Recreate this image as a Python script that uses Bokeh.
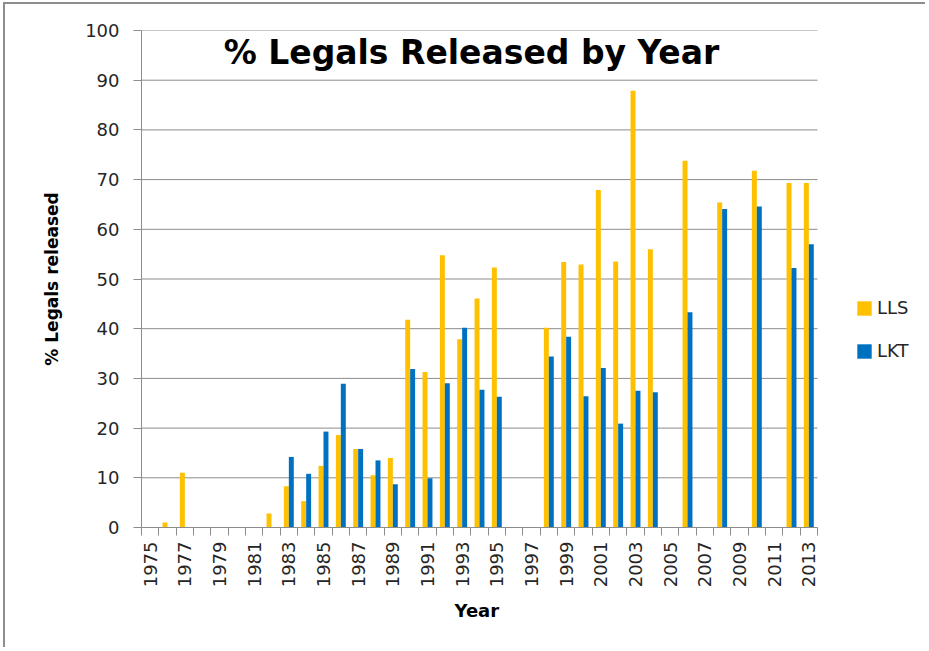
import math
from bokeh.plotting import figure
from bokeh.models import Range1d, FixedTicker, Label, Legend, LegendItem, ColumnDataSource, Title
from bokeh.transform import dodge
from bokeh.embed import file_html
from bokeh.resources import INLINE

nan = float("nan")

years = list(range(1975, 2014))
lls = [nan, 1.0, 11.0, nan, nan, nan, nan, 2.8, 8.3, 5.3,
       12.4, 18.6, 15.8, 10.5, 14.0, 41.8, 31.3, 54.8, 37.9, 46.1,
       52.3, nan, nan, 40.2, 53.4, 52.9, 67.9, 53.5, 87.9, 56.0,
       nan, 73.8, nan, 65.4, nan, 71.8, nan, 69.3, 69.3]
lkt = [nan, nan, nan, nan, nan, nan, nan, nan, 14.2, 10.8,
       19.3, 28.9, 15.8, 13.5, 8.7, 31.9, 9.9, 29.0, 40.2, 27.7,
       26.3, nan, nan, 34.4, 38.4, 26.4, 32.1, 20.9, 27.5, 27.2,
       nan, 43.3, nan, 64.1, nan, 64.6, nan, 52.2, 57.0]
x_tick_years = list(range(1975, 2014, 2))
y_ticks = list(range(0, 101, 10))
series_names = ["LLS", "LKT"]
series_colors = ["#FFC000", "#0070C0"]
title_text = "% Legals Released by Year"
x_title = "Year"
y_title = "% Legals released"

src = ColumnDataSource(dict(year=years, lls=lls, lkt=lkt))

# layout (pixels inside the figure; the figure content starts at page (5, 4))
W, H = 922, 645
left, top, bottom_px = 136, 26, 523
axis_right = 812          # right end of the category axis
frame_right = 908         # frame extended to hold the legend
x0 = years[0] - 0.5
x1 = years[-1] + 0.5
px_per_year = (axis_right - left) / (x1 - x0)
x_end = x1 + (frame_right - axis_right) / px_per_year

p = figure(width=W, height=H, output_backend="svg", toolbar_location=None,
           x_range=Range1d(x0, x_end), y_range=Range1d(0, 100),
           min_border_left=left, min_border_right=W - frame_right, min_border_top=top,
           min_border_bottom=H - bottom_px)
p.margin = (2, 0, 0, 3)
p.styles = {"border-top": "2px solid #8e8e8e", "border-left": "2px solid #8e8e8e",
            "border-right": "0px none white", "border-bottom": "0px none white",
            "outline": "none"}
p.outline_line_color = None
p.background_fill_color = "white"
p.border_fill_color = "white"

grey = "#8c8c8c"
txt = "#262626"

# horizontal gridlines limited to the category axis
p.segment(x0=[x0] * len(y_ticks), x1=[x1] * len(y_ticks), y0=y_ticks, y1=y_ticks,
          line_color=grey, line_width=1)

bw = 1.0 / 3.5
r1 = p.vbar(x=dodge("year", -bw / 2, range=p.x_range), top="lls", width=bw, source=src,
            fill_color=series_colors[0], line_color=None)
r2 = p.vbar(x=dodge("year", bw / 2, range=p.x_range), top="lkt", width=bw, source=src,
            fill_color=series_colors[1], line_color=None)

# x axis
p.xaxis.bounds = (x0, x1)
p.xaxis.ticker = FixedTicker(ticks=x_tick_years, minor_ticks=[y - 0.5 for y in years] + [x1])
p.xaxis.major_label_orientation = math.pi / 2
p.xaxis.major_tick_line_color = None
p.xaxis.major_tick_out = 8
p.xaxis.major_tick_in = 0
p.xaxis.minor_tick_out = 8
p.xaxis.minor_tick_in = 0
p.xaxis.minor_tick_line_color = grey
p.xaxis.axis_line_color = grey
p.xaxis.major_label_standoff = 6
p.xaxis.major_label_text_font = "DejaVu Sans"
p.xaxis.major_label_text_font_size = "18px"
p.xaxis.major_label_text_color = txt

# x axis title centred under the category axis
year_center = (left + axis_right) / 2 - 2
year_w = 46
xt = Title(text=x_title, align="left", offset=year_center - left - year_w / 2,
           text_font="DejaVu Sans", text_font_style="bold", text_font_size="18px",
           text_color="black", standoff=18, vertical_align="top")
p.add_layout(xt, "below")

# y axis
p.yaxis.ticker = FixedTicker(ticks=y_ticks)
p.yaxis.major_tick_out = 8
p.yaxis.major_tick_in = 0
p.yaxis.minor_tick_line_color = None
p.yaxis.major_tick_line_color = grey
p.yaxis.axis_line_color = grey
p.yaxis.major_label_standoff = 14
p.yaxis.major_label_text_font = "DejaVu Sans"
p.yaxis.major_label_text_font_size = "18px"
p.yaxis.major_label_text_color = txt
p.yaxis.axis_label = y_title
p.yaxis.axis_label_text_font = "DejaVu Sans"
p.yaxis.axis_label_text_font_style = "bold"
p.yaxis.axis_label_text_font_size = "17px"
p.yaxis.axis_label_text_color = "black"
p.yaxis.axis_label_standoff = 20

p.xgrid.visible = False
p.ygrid.visible = False

title = Label(x=330, y=475, x_units="screen", y_units="screen", text=title_text,
              text_align="center", text_baseline="alphabetic",
              text_font="DejaVu Sans", text_font_style="bold", text_font_size="33px",
              text_color="black")
p.add_layout(title)

legend = Legend(items=[LegendItem(label=series_names[0], renderers=[r1]),
                       LegendItem(label=series_names[1], renderers=[r2])],
                location=(714, 166), orientation="vertical",
                glyph_width=18, glyph_height=18, label_standoff=4, spacing=22,
                padding=0, margin=0, border_line_color=None, background_fill_alpha=0,
                label_text_font="DejaVu Sans", label_text_font_size="18px",
                label_text_color=txt, label_height=20)
p.add_layout(legend)

open("out.html", "w").write(file_html(p, INLINE))
